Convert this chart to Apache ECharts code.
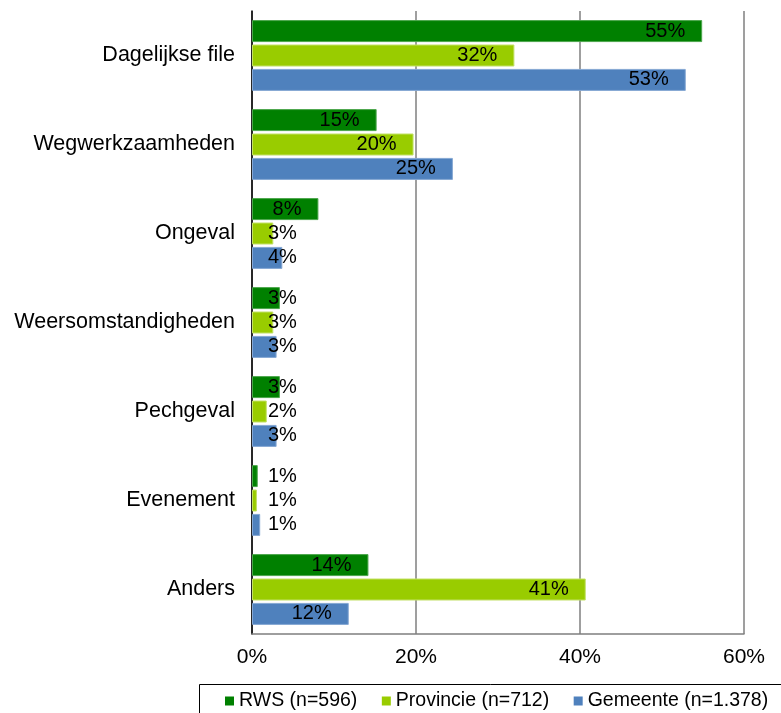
<!DOCTYPE html>
<html>
<head>
<meta charset="utf-8">
<script src="https://cdn.jsdelivr.net/npm/echarts@6/dist/echarts.min.js"></script>
<style>
  html, body { margin: 0; padding: 0; background: #fff; }
  #chart { width: 781px; height: 713px; }
</style>
</head>
<body>
<div id="chart"></div>
<script>
// categories, top to bottom
const categories = ['Dagelijkse file', 'Wegwerkzaamheden', 'Ongeval', 'Weersomstandigheden', 'Pechgeval', 'Evenement', 'Anders']

const seriesNames = ['RWS (n=596)', 'Provincie (n=712)', 'Gemeente (n=1.378)']

// percentages
const rws = [54.9, 15.2, 8.1, 3.4, 3.4, 0.7, 14.2]
const provincie = [32.0, 19.7, 2.6, 2.6, 1.8, 0.6, 40.7]
const gemeente = [52.9, 24.5, 3.7, 3.0, 3.0, 1.0, 11.8]

const xTicks = [0, 20, 40, 60]

const colors = ['#008000', '#99cc00', '#4f81bd']
const borders = ['#4da64d', '#c2e066', '#86a8d3']

const FONT = '"Liberation Sans", Arial, sans-serif'
const PX_PER = (744 - 252) / 60

// label sits inside the bar end; if it does not fit it starts near the axis
function makeData(values) {
    return values.map(v => {
        let txt = Math.round(v) + '%'
        let w = (txt.length - 1) * 0.556 * 20 + 0.889 * 20
        let len = v * PX_PER
        if (len - 17 - w < 16) {
            return {
                value: v,
                label: { position: [16, '50%'], align: 'left', verticalAlign: 'middle' }
            }
        }
        return v
    })
}

let chart = echarts.init(document.getElementById('chart'))

let series = [rws, provincie, gemeente].map((vals, i) => ({
    name: seriesNames[i],
    type: 'bar',
    data: makeData(vals),
    barWidth: 22,
    barGap: '11%',
    itemStyle: {
        color: colors[i],
        borderColor: borders[i],
        borderWidth: 1
    },
    label: {
        show: true,
        position: 'insideRight',
        distance: 17,
        color: '#000',
        fontSize: 20,
        fontFamily: FONT,
        formatter: p => Math.round(p.value) + '%'
    },
    emphasis: { disabled: true },
    animation: false
}))

let option = {
    backgroundColor: '#fff',
    animation: false,
    grid: {
        left: 252,
        right: 37,
        top: 11,
        bottom: 79
    },
    // legend frame runs off the right and bottom edge
    graphic: [{
        type: 'rect',
        shape: { x: 199.5, y: 684.5, width: 700, height: 80 },
        style: { fill: 'none', stroke: '#000', lineWidth: 1 },
        silent: true
    }],
    legend: {
        data: seriesNames,
        left: 225,
        top: 691,
        width: 556,
        padding: 0,
        itemWidth: 9,
        itemHeight: 9,
        itemGap: 24.5,
        icon: 'rect',
        itemStyle: { borderWidth: 0 },
        textStyle: { color: '#000', fontSize: 19.5, fontFamily: FONT },
        selectedMode: false
    },
    xAxis: {
        type: 'value',
        min: xTicks[0],
        max: xTicks[xTicks.length - 1],
        interval: 20,
        axisLine: { show: true, lineStyle: { color: '#7f7f7f', width: 1.5 } },
        axisTick: { show: false },
        splitLine: { show: true, lineStyle: { color: '#7f7f7f', width: 1.5 } },
        axisLabel: {
            color: '#000',
            fontSize: 21,
            fontFamily: FONT,
            margin: 13,
            formatter: '{value}%'
        }
    },
    yAxis: {
        type: 'category',
        data: categories,
        inverse: true,
        axisLine: { show: true, lineStyle: { color: '#000', width: 1.5 } },
        axisTick: { show: false },
        splitLine: { show: false },
        axisLabel: {
            color: '#000',
            fontSize: 21.5,
            fontFamily: FONT,
            margin: 17
        }
    },
    series: series
}

chart.setOption(option)
</script>
</body>
</html>
